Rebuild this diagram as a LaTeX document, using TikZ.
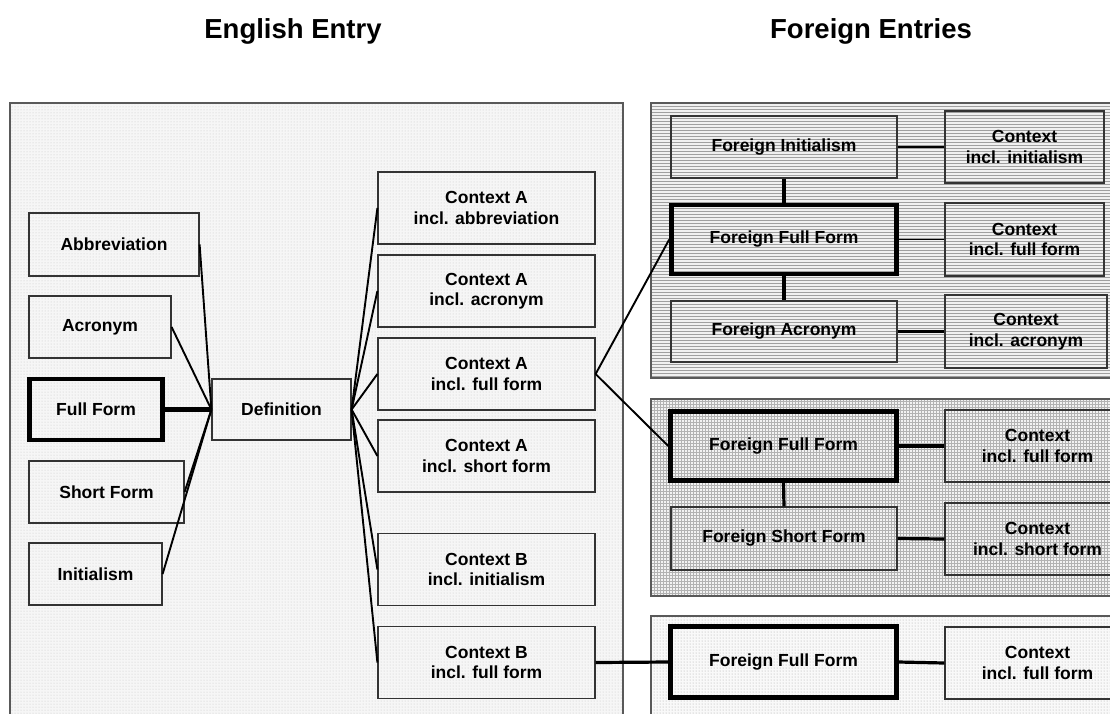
\documentclass[tikz,border=0pt]{standalone}
\usepackage{fontspec}
\setmainfont{Liberation Sans}
\usetikzlibrary{patterns}
\begin{document}
\begin{tikzpicture}[x=1pt,y=-1pt,
  box/.style={draw=black!80, line width=1.2pt, inner sep=0pt, align=center,
    font=\bfseries\fontsize{17.5}{20.5}\selectfont},
  thickbox/.style={box, draw=black, line width=4.6pt},
  panel/.style={draw=black!65, line width=1.5pt},
  conn/.style={draw=black, line width=1.9pt},
  thinconn/.style={draw=black, line width=1.1pt},
  boldconn/.style={draw=black, line width=3.2pt},
  heavyconn/.style={draw=black, line width=4.4pt},
  title/.style={font=\bfseries\fontsize{27.5}{32}\selectfont}]
\clip (0,0) rectangle (1110,713);
\fill[white] (0,0) rectangle (1110,713);

% panels
\fill[gray!7] (10,103) rectangle (623,730);
\fill[pattern=dots, pattern color=gray!45] (10,103) rectangle (623,730);
\draw[panel] (10,103) rectangle (623,730);

\fill[gray!12] (651,103) rectangle (1130,378);
\fill[pattern=horizontal lines, pattern color=gray!75] (651,103) rectangle (1130,378);
\draw[panel] (651,103) rectangle (1130,378);

\fill[gray!10] (651,399) rectangle (1130,596);
\fill[pattern=grid, pattern color=gray!60] (651,399) rectangle (1130,596);
\draw[panel] (651,399) rectangle (1130,596);

\fill[gray!5] (651,616) rectangle (1130,730);
\fill[pattern=dots, pattern color=gray!70] (651,616) rectangle (1130,730);
\draw[panel] (651,616) rectangle (1130,730);

% titles
\node[title] (t1) at (293,31) {English Entry};
\node[title] (t2) at (871,31) {Foreign Entries};

% English entry
\node[box, minimum width=170, minimum height=63] (abbr) at (114,244.5) {Abbreviation};
\node[box, minimum width=142, minimum height=62] (acro) at (100,327) {Acronym};
\node[thickbox, minimum width=133, minimum height=61] (full) at (96,409.5) {Full Form};
\node[box, minimum width=155, minimum height=62] (short) at (106.5,492) {Short Form};
\node[box, minimum width=133, minimum height=62] (init) at (95.5,574) {Initialism};
\node[box, minimum width=139, minimum height=61] (def) at (281.5,409.5) {Definition};

\node[box, minimum width=217, minimum height=72] (cAabbr) at (486.5,208) {Context A\\incl. abbreviation};
\node[box, minimum width=217, minimum height=72] (cAacro) at (486.5,291) {Context A\\incl. acronym};
\node[box, minimum width=217, minimum height=72] (cAfull) at (486.5,374) {Context A\\incl. full form};
\node[box, minimum width=217, minimum height=72] (cAshort) at (486.5,456) {Context A\\incl. short form};
\node[box, minimum width=217, minimum height=72] (cBinit) at (486.5,569.5) {Context B\\incl. initialism};
\node[box, minimum width=217, minimum height=72] (cBfull) at (486.5,662.5) {Context B\\incl. full form};

% top foreign panel
\node[box, minimum width=226, minimum height=62] (tInit) at (784,147) {Foreign Initialism};
\node[thickbox, minimum width=225, minimum height=69] (tFull) at (784,239.5) {Foreign Full Form};
\node[box, minimum width=226, minimum height=61] (tAcro) at (784,331.5) {Foreign Acronym};
\node[box, minimum width=159, minimum height=72] (tcInit) at (1024.5,147) {Context\\incl. initialism};
\node[box, minimum width=159, minimum height=73] (tcFull) at (1024.5,239.5) {Context\\incl. full form};
\node[box, minimum width=162, minimum height=73] (tcAcro) at (1026,331.5) {Context\\incl. acronym};

% middle foreign panel
\node[thickbox, minimum width=226, minimum height=69] (mFull) at (783.5,446) {Foreign Full Form};
\node[box, minimum width=226, minimum height=63] (mShort) at (784,538.5) {Foreign Short Form};
\node[box, minimum width=185, minimum height=72] (mcFull) at (1037.5,446) {Context\\incl. full form};
\node[box, minimum width=185, minimum height=72] (mcShort) at (1037.5,539) {Context\\incl. short form};

% bottom foreign panel
\node[thickbox, minimum width=226, minimum height=71] (bFull) at (783.5,662) {Foreign Full Form};
\node[box, minimum width=185, minimum height=72] (bcFull) at (1037.5,663) {Context\\incl. full form};

% connectors English
\draw[conn] (abbr.east) -- (def.west);
\draw[conn] (acro.east) -- (def.west);
\draw[heavyconn] (full.east) -- (def.west);
\draw[conn] (short.east) -- (def.west);
\draw[conn] (init.east) -- (def.west);
\draw[conn] (def.east) -- (cAabbr.west);
\draw[conn] (def.east) -- (cAacro.west);
\draw[conn] (def.east) -- (cAfull.west);
\draw[conn] (def.east) -- (cAshort.west);
\draw[conn] (def.east) -- (cBinit.west);
\draw[conn] (def.east) -- (cBfull.west);

% connectors to foreign
\draw[conn] (cAfull.east) -- (tFull.west);
\draw[conn] (cAfull.east) -- (mFull.west);
\draw[boldconn] (cBfull.east) -- (bFull.west);

% top panel connectors
\draw[thinconn] (tInit.east) -- (tcInit.west);
\draw[thinconn] (tFull.east) -- (tcFull.west);
\draw[boldconn] (tAcro.east) -- (tcAcro.west);
\draw[boldconn] (tInit.south) -- (tFull.north);
\draw[boldconn] (tFull.south) -- (tAcro.north);

% middle panel connectors
\draw[boldconn] (mFull.east) -- (mcFull.west);
\draw[boldconn] (mShort.east) -- (mcShort.west);
\draw[boldconn] (mFull.south) -- (mShort.north);

% bottom panel connector
\draw[boldconn] (bFull.east) -- (bcFull.west);
\end{tikzpicture}
\end{document}
